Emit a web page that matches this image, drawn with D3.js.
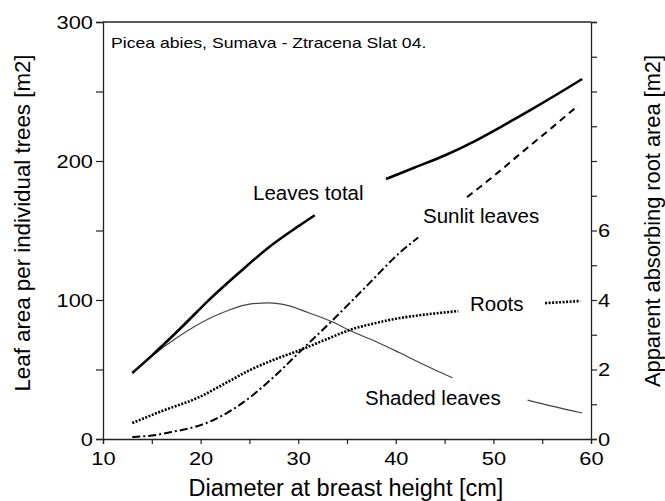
<!DOCTYPE html>
<html>
<head>
<meta charset="utf-8">
<script src="https://cdn.jsdelivr.net/npm/d3@7"></script>
<style>
  body { margin: 0; background: #fff; }
  svg text { font-family: "Liberation Sans", Arial, Helvetica, sans-serif; fill: #000; }
</style>
</head>
<body>
<script>
// values (diameter in cm, leaf area in m2, root area in m2)
// null = gap left in the curve for its label
var totalX = [13, 15, 18, 21, 24, 27, 30, 31.7, 35, 39, 42, 45, 48, 51, 54, 57, 59.1];
var totalY = [47.5, 60, 80, 101, 120, 138, 153, 161, null, 187, 195.5, 204, 214, 225.5, 237.5, 250, 259];

var sunlitX = [13, 15, 17, 20, 22, 24.3, 27.4, 30.2, 33.6, 37, 40.4, 42.3, 45, 47.3, 50, 53.4, 56, 58.7];
var sunlitY = [1.5, 2.5, 5, 10, 16, 26, 44, 63, 86, 110, 134, 145, null, 174, 189, 209, 224, 240];

var shadedX = [13, 15, 17.6, 21, 23, 25, 27, 29, 31, 33.6, 35.3, 38, 40.4, 43, 45.8, 50, 53.5, 56, 59.1];
var shadedY = [47.5, 59.5, 73, 87, 93, 97, 98, 96, 91, 84, 78, 70, 62, 53, 44, null, 28, 23.6, 18.7];

// roots go on the right hand axis
var rootsX = [13, 16, 19.9, 22.5, 25.1, 27.5, 30.2, 33, 35.3, 38, 40.4, 43, 46.4, 50, 55.3, 58.9];
var rootsY = [0.46, 0.8, 1.21, 1.6, 1.99, 2.28, 2.56, 2.88, 3.14, 3.34, 3.48, 3.58, 3.68, null, 3.91, 3.97];

var xTicks = d3.range(10, 61, 5);
var leftTicks = d3.range(0, 301, 50);
var rightTicks = d3.range(0, 13, 1);
var rightLabels = [0, 2, 4, 6];

var W = 665, H = 501;
var svg = d3.select("body").append("svg").attr("width", W).attr("height", H);

var x = d3.scaleLinear().domain([10, 60]).range([103, 591]);
var y = d3.scaleLinear().domain([0, 300]).range([439, 22]);
var y2 = d3.scaleLinear().domain([0, 12]).range([439, 22]);

var tickFont = 19, tickStretch = 1.15;

// frame lines on top and right
svg.append("line").attr("x1", x(10)).attr("x2", x(60)).attr("y1", y(300)).attr("y2", y(300))
  .attr("stroke", "#222").attr("stroke-width", 1.3);

var gx = svg.append("g").attr("transform", "translate(0," + y(0) + ")")
  .call(d3.axisBottom(x).tickValues(xTicks).tickSize(5).tickPadding(8)
    .tickFormat(function(d) { return d % 10 === 0 ? d : ""; }));

var gy = svg.append("g").attr("transform", "translate(" + x(10) + ",0)")
  .call(d3.axisLeft(y).tickValues(leftTicks).tickSize(7).tickPadding(3)
    .tickFormat(function(d) { return d % 100 === 0 ? d : ""; }));

var gy2 = svg.append("g").attr("transform", "translate(" + x(60) + ",0)")
  .call(d3.axisRight(y2).tickValues(rightTicks).tickSize(6).tickPadding(1)
    .tickFormat(function(d) { return rightLabels.indexOf(d) >= 0 ? d : ""; }));

[gx, gy, gy2].forEach(function(g) {
  g.select(".domain").attr("stroke", "#222").attr("stroke-width", 1.3);
  g.selectAll(".tick line").attr("stroke", "#222").attr("stroke-width", 1.2);
  g.selectAll(".tick text").attr("font-size", tickFont).attr("fill", "#000")
    .attr("x", function() { return +d3.select(this).attr("x") / tickStretch; })
    .attr("transform", "scale(" + tickStretch + ",1)");
});

// curves
function pts(xs, ys) {
  return xs.map(function(v, i) { return { x: v, y: ys[i] }; });
}
function segments(p) {
  var out = [], cur = [];
  p.forEach(function(d) {
    if (d.y == null) { if (cur.length) out.push(cur); cur = []; }
    else cur.push(d);
  });
  if (cur.length) out.push(cur);
  return out;
}

var line = d3.line().curve(d3.curveMonotoneX)
  .x(function(d) { return x(d.x); }).y(function(d) { return y(d.y); });
var line2 = d3.line().curve(d3.curveMonotoneX)
  .x(function(d) { return x(d.x); }).y(function(d) { return y2(d.y); });

segments(pts(shadedX, shadedY)).forEach(function(s) {
  svg.append("path").attr("d", line(s)).attr("fill", "none")
    .attr("stroke", "#444").attr("stroke-width", 1.2);
});

segments(pts(rootsX, rootsY)).forEach(function(s) {
  svg.append("path").attr("d", line2(s)).attr("fill", "none")
    .attr("stroke", "#000").attr("stroke-width", 2.6).attr("stroke-dasharray", "2,1.5");
});

segments(pts(sunlitX, sunlitY)).forEach(function(s, i) {
  svg.append("path").attr("d", line(s)).attr("fill", "none")
    .attr("stroke", "#000").attr("stroke-width", 2)
    .attr("stroke-dasharray", i === 0 ? "8,3,2,3" : "7,5");
});

segments(pts(totalX, totalY)).forEach(function(s) {
  svg.append("path").attr("d", line(s)).attr("fill", "none")
    .attr("stroke", "#000").attr("stroke-width", 2.6);
});

// curve labels
var labels = [
  { t: "Leaves total", px: 253, py: 200 },
  { t: "Sunlit leaves", px: 423, py: 223 },
  { t: "Roots", px: 470, py: 311 },
  { t: "Shaded leaves", px: 365, py: 405 }
];
svg.selectAll(".lab").data(labels).enter().append("text")
  .attr("x", function(d) { return d.px; }).attr("y", function(d) { return d.py; })
  .attr("font-size", 20.5).text(function(d) { return d.t; });

// site note in the corner
svg.append("text").attr("transform", "translate(111,48) scale(1.26,1)")
  .attr("font-size", 14).text("Picea abies, Sumava - Ztracena Slat 04.");

// axis titles
svg.append("text").attr("x", 346).attr("y", 496).attr("text-anchor", "middle")
  .attr("font-size", 23.5).text("Diameter at breast height [cm]");
svg.append("text").attr("transform", "translate(30,223) rotate(-90)").attr("text-anchor", "middle")
  .attr("font-size", 22.3).text("Leaf area per individual trees [m2]");
svg.append("text").attr("transform", "translate(660,221) rotate(-90)").attr("text-anchor", "middle")
  .attr("font-size", 21.8).text("Apparent absorbing root area [m2]");
</script>
</body>
</html>
